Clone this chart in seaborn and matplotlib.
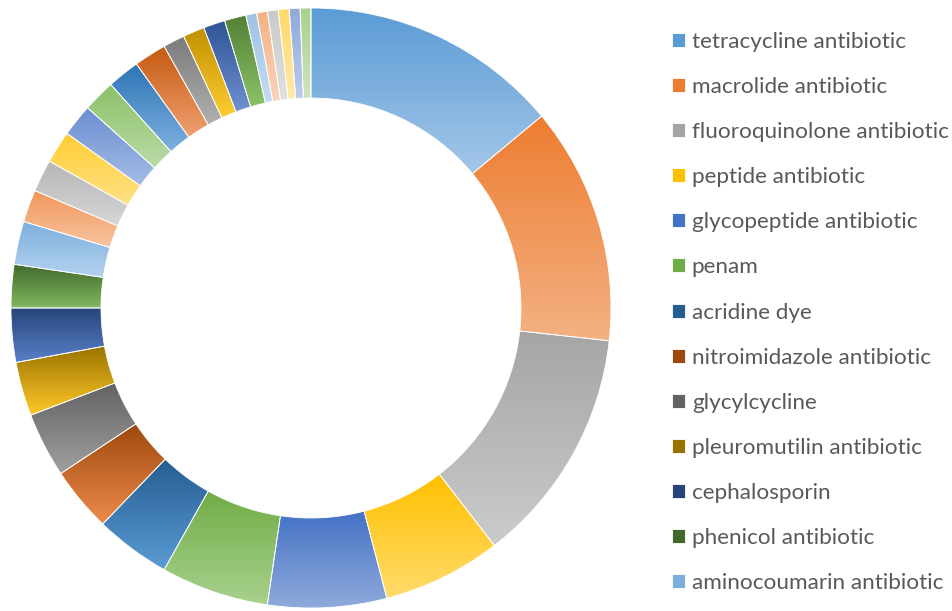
import numpy as np
import matplotlib
matplotlib.use("Agg")
import matplotlib.pyplot as plt
import seaborn as sns

# drug classes, clockwise from 12 o'clock
drug_class = [
    'tetracycline antibiotic', 'macrolide antibiotic', 'fluoroquinolone antibiotic',
    'peptide antibiotic', 'glycopeptide antibiotic', 'penam', 'acridine dye',
    'nitroimidazole antibiotic', 'glycylcycline', 'pleuromutilin antibiotic',
    'cephalosporin', 'phenicol antibiotic', 'aminocoumarin antibiotic',
    'aminoglycoside antibiotic', 'carbapenem', 'cephamycin', 'monobactam', 'penem',
    'rifamycin antibiotic', 'lincosamide antibiotic', 'streptogramin antibiotic',
    'diaminopyrimidine antibiotic', 'sulfonamide antibiotic', 'fosfomycin',
    'nucleoside antibiotic', 'oxazolidinone antibiotic', 'elfamycin antibiotic',
    'mupirocin', 'fusidic acid', 'triclosan',
]
n_genes = [24, 22, 22, 11, 11, 10, 7, 6, 6, 5, 5, 4, 4,
           3, 3, 3, 3, 3, 3, 3, 2, 2, 2, 2, 1, 1, 1, 1, 1, 1]

# excel-style gradient: top colour -> bottom colour
top_col = ['#5B9BD5', '#ED7D31', '#A5A5A5', '#FFC000', '#4472C4', '#70AD47',
           '#255E91', '#9E480E', '#636363', '#997300', '#264478', '#43682B',
           '#7CAFDD', '#F1975A', '#B7B7B7', '#FFCD33', '#698ED0', '#8CC168',
           '#2E75B6', '#C55A11', '#7B7B7B', '#BF9000', '#2F5597', '#538135',
           '#9DC3E6', '#F4B183', '#C9C9C9', '#FFD966', '#8FAADC', '#A9D18E']
bot_col = ['#A3C7E9', '#F4B183', '#CBCBCB', '#FFDB6B', '#8FAADC', '#A9D18E',
           '#5B9BD5', '#ED8B4A', '#A0A0A0', '#FFC829', '#5A7FC8', '#80B95F',
           '#B4D2EF', '#F8C3A0', '#D6D6D6', '#FFE285', '#A6BCE6', '#BADBA6',
           '#7EB0DF', '#F0A070', '#B0B0B0', '#FFCC33', '#6F8FD0', '#8CC168',
           '#C5DCF2', '#F9D4BC', '#E0E0E0', '#FFEAA8', '#BCCCEC', '#CDE5BE']

n_legend = 13

sns.set_style('white')
plt.rcParams['font.family'] = ['Lato', 'DejaVu Sans']

fig = plt.figure(figsize=(9.52, 6.11), dpi=100)
ax = fig.add_axes([11 / 952, 3 / 611, 600 / 952, 600 / 611])

wedges, _ = ax.pie(n_genes, colors=top_col, startangle=90, counterclock=False,
                   radius=1.0, wedgeprops=dict(width=0.3, edgecolor='white', linewidth=0.6))

leg = fig.legend(wedges[:n_legend], drug_class[:n_legend], loc='upper left',
                 bbox_to_anchor=(672 / 952, 1 - 32 / 611), frameon=False,
                 fontsize=16.2, labelcolor='#595959', handlelength=0.58, handleheight=0.58,
                 handletextpad=0.3, labelspacing=1.115, borderpad=0, borderaxespad=0)

# vertical gradient inside every slice
for w, c0, c1 in zip(wedges, top_col, bot_col):
    ext = w.get_path().get_extents()
    grad = np.array(sns.blend_palette([c0, c1], n_colors=128))[:, None, :]
    ax.imshow(grad, extent=[ext.x0, ext.x1, ext.y0, ext.y1], origin='upper',
              aspect='auto', clip_path=w, zorder=1, interpolation='bilinear')
    w.set_facecolor('none')
    w.set_zorder(2)

ax.set_aspect('equal')
ax.set_xlim(-1, 1)
ax.set_ylim(-1, 1)
ax.axis('off')

fig.savefig('out.png', dpi=100)
